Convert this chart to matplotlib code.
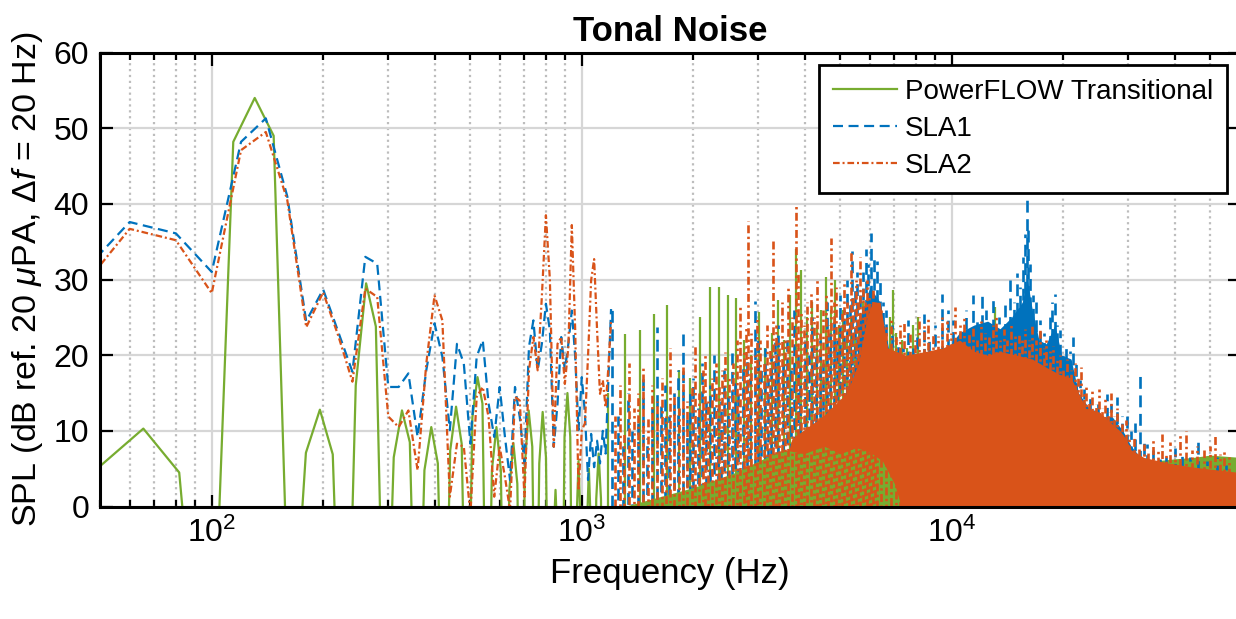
import numpy as np
import matplotlib
matplotlib.use('Agg')
import matplotlib.pyplot as plt
from matplotlib.ticker import LogLocator, NullFormatter

plt.rcParams['font.family'] = ['Liberation Sans', 'DejaVu Sans']
plt.rcParams['mathtext.fontset'] = 'custom'
plt.rcParams['mathtext.rm'] = 'Liberation Sans'
plt.rcParams['mathtext.it'] = 'Liberation Sans:italic'
plt.rcParams['mathtext.bf'] = 'Liberation Sans:bold'

GREEN = '#77AC30'
BLUE = '#0072BD'
ORANGE = '#D95319'

# ---- PowerFLOW transitional, low frequency part (bin index k, df = 16.33 Hz) ----
pf_df = 16.333
pf_bins = list(range(3, 71))
pf_spl_low = [5.0, 10.3, 4.5, -38, 48.2, 54.0, 49.0, -24, 7.1, 12.8, 6.9, -40,
              16.0, 29.5, 23.8, -30, 6.5, 12.7, 8.5, -30, 4.8, 10.5, 5.7, -30,
              7.4, 13.2, 8.3, -30, 11.8, 17.1, 13.6, -30, 4.8, 10.5, 4.8, -30,
              2.1, 8.4, 3.0, -30, 5.7, 12.7, 7.9, -30, 5.7, 12.5, 6.5, -30,
              -8, 2.2, -8, -30, 9.2, 15.0, 9.2, -30, -5, 6.0, -5, -30,
              -5, 5.0, -5, -30, 1, 7.0, 1, -30]

# PowerFLOW tones above 1 kHz
pf_tone_f = [1176, 1307, 1437, 1568, 1698, 1829, 1960, 2091, 2221, 2352, 2483, 2613,
             2744, 2875, 3006, 3136, 3267, 3398, 3528, 3659, 3790, 3920, 4051, 4181,
             4312, 4443, 4573, 4704, 4834, 4965, 5096, 5226, 5357, 5488, 5618, 5749,
             5879, 6010, 6141, 6272, 6402, 6533, 6664, 6794, 6925, 7056, 7317, 7578,
             7840, 8101, 8362, 8754, 9146, 9800, 10450, 11100, 11760, 12410, 13070,
             13720, 14370, 15020, 15680, 16330, 16980, 17640, 18290, 19600, 20900,
             22860, 24820]
pf_tone_spl = [15, 22.8, 23.3, 25.5, 26.6, 18, 17, 25.1, 29, 29, 28, 27.5,
               22, 20, 25.7, 21, 23, 27.3, 22, 28, 34, 31.2, 25, 27,
               24, 26, 30.3, 26, 29.9, 24, 26, 23, 25, 22, 24, 27,
               25, 24, 26, 23, 22, 24, 22, 25, 28.6, 23, 22, 21,
               24, 25, 20, 18, 17, 16, 18, 20, 22, 21, 26.4,
               22, 20, 22, 21, 24.6, 22, 19, 21, 18, 16,
               12, 10]
# PowerFLOW broadband floor, mid band and high band
pf_floor_mid_f = [1300, 2000, 2600, 3000, 3500, 4000, 4500, 5000, 5500, 6000, 6500,
                  7000, 7300]
pf_floor_mid_spl = [0, 2.5, 4.5, 6, 7.5, 7, 8, 7, 7.8, 7.2, 6, 3, 0]
pf_floor_high_f = [28000, 30000, 35000, 40000, 45000, 50000, 60000]
pf_floor_high_spl = [0, 5.5, 6.0, 6.3, 6.5, 6.8, 6.5]

# ---- SLA runs, low frequency part (df = 20 Hz) ----
sla_freq_low = np.arange(40, 1201, 20)
sla1_spl_low = [28.4, 37.6, 36.1, 31.0, 48.2, 51.3, 41.0, 24.5, 28.7, 23.0,
                17.8, 33.0, 32.1, 15.8, 15.8, 17.6, 9.2, 18.0, 24.2, 19.8,
                10.1, 21.5, 18.9, 8.3, 19.8, 22.0, 13.6, 9.2, 15.8, 9.2,
                3.5, 15.8, 11.8, 5.7, 21.1, 24.6, 18.0, 21.5, 26.8, 23.3,
                7.9, 13.6, 22.4, 18.0, 21.5, 25.9, 19.8, 10.1, 17.1,
                12.3, 3.5, 9.6, 5.2, 8.7, 5.7, 10.0, 7.0, 16.7, 26.1]
sla2_spl_low = [26.1, 36.7, 35.2, 28.2, 47.1, 49.5, 40.5, 23.7, 28.3, 22.5,
                16.5, 28.8, 27.7, 11.9, 10.5, 12.7, 4.8, 18.9, 27.9, 24.6,
                1.3, 8.3, 7.9, -1.0, 14.5, 15.8, 11.8, 1.3, 7.9, 3.9,
                -0.5, 14.5, 14.0, 1.3, 18.0, 22.4, 18.0, 27.7, 38.5, 30.0,
                7.9, 21.5, 22.4, 16.2, 21.1, 37.2, 23.3, 2.1, 10.1,
                11.0, 20.0, 29.9, 32.7, 23.3, 14.9, 16.7, 13.1, 18.4, 24.6]

# SLA1 peaks above 1.2 kHz
sla1_peak_f = [1210, 1250, 1290, 1330, 1370, 1420, 1460, 1500, 1550, 1600, 1640, 1680,
               1720, 1770, 1820, 1880, 1920, 1960, 2000, 2060, 2110, 2170, 2220, 2280,
               2330, 2380, 2430, 2490, 2550, 2600, 2650, 2720, 2790, 2850, 2940, 3000,
               3060, 3130, 3190, 3250, 3330, 3400, 3500, 3580, 3680, 3750, 3830, 3900,
               4000, 4100, 4200, 4300, 4400, 4500, 4600, 4700, 4800, 4900, 5000, 5100,
               5200, 5300, 5390, 5480, 5560, 5650, 5740, 5850, 5950, 6060, 6150, 6260,
               6380, 6500, 6650, 6900, 7150, 7400, 7600, 7850, 8050, 8400, 8700, 9000,
               9400, 9750, 10100, 10500, 10900, 11400, 11700, 12050, 12400, 12900, 13400,
               13900, 14380, 14700, 14980, 15300, 15600, 15800, 15950, 16100, 16300,
               16600, 16900, 17300, 17800, 18400, 18700, 19000, 19300, 19600, 20000,
               20400, 20900, 21300, 21700, 22200, 22800, 23600, 24200, 24800, 25500,
               26200, 27000, 27900, 28800, 29700, 30500, 31300, 32300, 33000, 33600,
               35000, 36500, 38000, 40000, 42000, 44000, 46400, 49000, 52000, 55000]
sla1_peak_spl = [26.1, 12, 8, 15, 10, 11, 17, 9, 13, 23.7, 14, 16,
                 12, 15, 18, 22.8, 12, 15, 17, 13, 19, 14, 16, 20,
                 13, 14, 18, 15, 21, 17, 15, 19, 20, 17, 27.2, 22,
                 18, 21, 17, 20, 22, 24, 19, 22, 18, 26, 21, 19,
                 23, 20, 25, 21, 22, 19, 27, 23, 25, 22, 28, 26,
                 30, 27, 33.8, 29, 31, 28, 31, 34, 32, 36.1, 33, 32.5,
                 30, 27, 26, 24, 22, 21, 24.6, 21, 23, 25.5, 22.5, 24,
                 28.1, 26, 24.6, 23, 26, 27.9, 25, 28.3, 26, 27.7, 25,
                 27, 29.9, 27, 30.8, 29, 33, 36, 40.5, 37, 32.1,
                 28, 27, 24.6, 23, 25, 27, 28.1, 24, 23.3, 20,
                 21, 20.5, 22.4, 19, 16.7, 15.5, 14.9, 13, 13.5, 12,
                 14.9, 13.5, 14.5, 12, 12.3, 10, 11, 17.5, 9, 8.3,
                 7.5, 7, 6.5, 7.8, 7, 6.5, 9, 6, 6.5, 5.5]
# SLA1 dense core
sla1_core_f = [5300, 5600, 6000, 6400, 6800, 7200, 9600, 9800, 10500, 11500,
               12500, 13500, 14500, 15500, 16000, 16500, 17200, 18000, 19000, 19800,
               21000, 22000, 23500, 25000, 27000, 29000, 30500, 33000]
sla1_core_spl = [0, 24, 29, 27, 20, 0, 0, 21, 23, 24,
                 24.5, 23.5, 25, 27, 30, 26, 22, 21.5, 24, 20,
                 19.5, 15, 13, 11.5, 12, 10, 8, 6]

# SLA2 peaks above 1.2 kHz
sla2_peak_f = [1230, 1270, 1300, 1340, 1380, 1420, 1467, 1510, 1550, 1600, 1650, 1690,
               1733, 1780, 1830, 1883, 1930, 1980, 2025, 2080, 2120, 2155, 2200, 2250,
               2300, 2350, 2400, 2440, 2500, 2560, 2620, 2678, 2740, 2780, 2820, 2870,
               2930, 2980, 3040, 3100, 3160, 3220, 3295, 3350, 3410,
               3480, 3550, 3620, 3700, 3792, 3850, 3920, 3990, 4060, 4160, 4240, 4320,
               4400, 4480, 4560, 4640, 4713, 4800, 4880, 4960, 5040, 5120, 5200, 5280,
               5336, 5420, 5500, 5580, 5653, 5740, 5820, 5900, 5980, 6040, 6120, 6200, 6280,
               6450, 6650, 6850, 7050, 7250, 7450, 7700, 7950, 8150, 8400, 8650, 8900,
               9150, 9400, 9700, 9950, 10200,
               10500, 10800, 11100, 11400, 11700, 12000, 12300, 12600, 12900, 13200,
               13500, 13800, 14100, 14500, 14800, 15200, 15500, 15800, 16200, 16500,
               16900, 17300, 17700, 18000, 18400, 18800, 19200, 19600, 20000, 20500,
               21000, 21500, 22000, 22300, 22700, 23000, 23500, 24000, 24500, 25000,
               25500, 26000, 26500, 27000, 27500, 28000, 28800, 29500, 30200, 31000,
               32000, 33000, 34000, 35000, 36000, 37000, 38000, 39000, 40000, 41400,
               43000, 44500, 46000, 48000, 50000, 51500, 53000, 54500, 56000]
sla2_peak_spl = [12, 16, 10, 19, 13, 15, 18.5, 12, 16, 14, 17, 12,
                 21, 15, 13, 18.5, 14, 16, 21.5, 15, 18, 20, 14, 17,
                 19, 16, 18, 20.4, 17, 19, 22, 26.4, 21, 24, 37.8, 23,
                 20, 25, 22, 19, 24, 21, 35.5, 24, 22,
                 27, 22, 29, 25, 40, 31, 26, 24, 27, 28.3, 25, 30,
                 23, 26, 28, 24, 35.5, 27, 29, 24, 26, 30, 27, 25,
                 33.8, 28, 30, 27, 33, 29, 27, 30, 28, 26.8, 29, 27, 25,
                 26, 24, 25, 23, 24, 24.5, 23, 22, 25, 24, 25, 23,
                 22.5, 25, 24.5, 23, 26.4,
                 24, 25, 23, 24, 22, 24.5, 23, 22.4, 24, 25,
                 22, 23.5, 22, 24, 22.5, 23, 22, 23.5, 22, 24.2,
                 22, 23.5, 21, 22, 20.5, 21.2, 19.5, 20, 18.5, 19.5,
                 18, 19, 17, 18.5, 15, 16, 14, 15.3, 13.5, 15.5,
                 13, 14.5, 12.5, 15, 12, 13, 11, 11.5, 9.5, 9.5,
                 8, 8.3, 7.5, 9, 7.5, 9.6, 7, 8.5, 7, 9.6,
                 10, 7.5, 8, 7.5, 8, 9.4, 7, 7.5, 6.5]
# SLA2 dense core
sla2_core_f = [3300, 3700, 4500, 5200, 5600, 5900, 6100, 6400, 6700, 7500, 8500, 9500,
               10500, 11500, 12500, 13500, 15000, 16500, 18000, 19500, 21000, 22000,
               23000, 25000, 27000, 28500, 29500, 30500, 33000, 38000, 45000, 60000]
sla2_core_spl = [0, 9, 12, 15, 19, 25, 27, 27, 21, 20, 20.5, 21,
                 22, 20.5, 20, 20.5, 20, 19.5, 18.4, 17.5, 17, 15,
                 13, 12.5, 11, 10, 9, 7.5, 6.5, 5.8, 5.2, 4.5]

# ---------------------------------------------------------------------------
fig = plt.figure(figsize=(12.36, 6.19), dpi=100)
ax = fig.add_axes([0.0812, 0.1817, 0.9218, 0.7334])
ax.set_xscale('log')

lw = 1.6
dash_sla1 = (4.5, 2.5)
dash_sla2 = (3.0, 1.3, 0.9, 1.3)


def spike_styles(n, dash):
    # shift the dash phase from spike to spike so the pattern does not line up
    period = sum(dash)
    return [((i * 0.618 * period) % period, dash) for i in range(n)]


pf_freq_low = pf_df * np.array(pf_bins)

# PowerFLOW
ax.plot(pf_freq_low, pf_spl_low, color=GREEN, lw=lw, zorder=2, label='PowerFLOW Transitional')
ax.fill_between(pf_floor_high_f, 0, pf_floor_high_spl, color=GREEN, lw=0, zorder=2)
ax.fill_between(pf_floor_mid_f, 0, pf_floor_mid_spl, color=GREEN, lw=0, zorder=4.3)
ax.vlines(pf_tone_f, 0, pf_tone_spl, colors=GREEN, lw=1.6, zorder=2)

# SLA1
ax.plot(sla_freq_low, sla1_spl_low, color=BLUE, lw=lw, ls=(0, dash_sla1), zorder=3, label='SLA1')
ax.fill_between(sla1_core_f, 0, sla1_core_spl, color=BLUE, lw=0, zorder=3)
ax.vlines(sla1_peak_f, 0, sla1_peak_spl, colors=BLUE, lw=1.9,
          linestyles=spike_styles(len(sla1_peak_f), dash_sla1), zorder=3)

# SLA2
ax.plot(sla_freq_low, sla2_spl_low, color=ORANGE, lw=lw, ls=(0, dash_sla2), zorder=4, label='SLA2')
ax.fill_between(sla2_core_f, 0, sla2_core_spl, color=ORANGE, lw=0, zorder=4)
ax.vlines(sla2_peak_f, 0, sla2_peak_spl, colors=ORANGE, lw=1.9,
          linestyles=spike_styles(len(sla2_peak_f), dash_sla2), zorder=4.6)

ax.set_xlim(50, 60000)
ax.set_ylim(0, 60)
ax.set_yticks(range(0, 61, 10))
ax.xaxis.set_major_locator(LogLocator(base=10, numticks=10))
ax.xaxis.set_minor_locator(LogLocator(base=10, subs=np.arange(2, 10), numticks=20))
ax.xaxis.set_minor_formatter(NullFormatter())

ax.set_axisbelow(True)
ax.grid(True, which='major', color='#d6d6d6', lw=1.6, ls='-')
ax.grid(True, which='minor', axis='x', color='#bdbdbd', lw=1.6, ls=':')

ax.tick_params(which='both', direction='in', top=True, right=True, width=1.6,
               labelsize=23, pad=8)
ax.tick_params(which='major', length=9)
ax.tick_params(which='minor', length=5)
for sp in ax.spines.values():
    sp.set_linewidth(2.2)
    sp.set_zorder(6)

ax.set_xlabel('Frequency (Hz)', fontsize=25, labelpad=6)
ax.set_ylabel(r'SPL (dB ref. 20 $\mu$PA, $\Delta f$ = 20 Hz)', fontsize=24.5, labelpad=6)
ax.set_title('Tonal Noise', fontsize=25, fontweight='bold', pad=8)

leg = ax.legend(loc='upper right', fontsize=20, frameon=True, fancybox=False,
                edgecolor='black', framealpha=1, borderaxespad=0.45,
                handlelength=2.3, handletextpad=0.3, labelspacing=0.4, borderpad=0.5)
leg.get_frame().set_linewidth(2)
leg.set_zorder(10)

fig.savefig('out.png', dpi=100)
